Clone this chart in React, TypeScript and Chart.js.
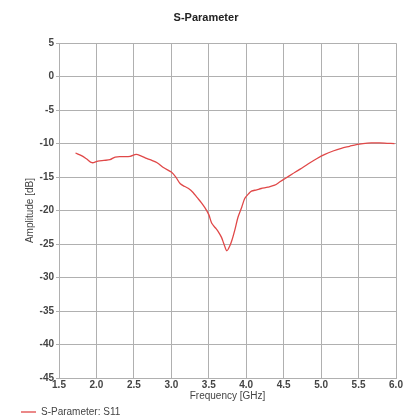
import React, { useEffect, useRef } from "react";
import { Chart, registerables } from "chart.js";

Chart.register(...registerables);

const freqGHz = [1.72, 1.8, 1.87, 1.94, 2.02, 2.1, 2.18, 2.25, 2.35, 2.45, 2.53, 2.6, 2.67, 2.74, 2.81, 2.9, 3.0, 3.06, 3.12, 3.18, 3.23, 3.29, 3.34, 3.4, 3.45, 3.5, 3.54, 3.59, 3.63, 3.67, 3.7, 3.74, 3.78, 3.81, 3.85, 3.89, 3.94, 3.98, 4.03, 4.07, 4.14, 4.2, 4.29, 4.38, 4.45, 4.52, 4.62, 4.72, 4.83, 4.94, 5.05, 5.16, 5.27, 5.38, 5.47, 5.56, 5.67, 5.78, 5.88, 5.98];
const s11dB = [-11.4, -11.8, -12.3, -12.85, -12.6, -12.5, -12.4, -12.0, -11.95, -11.9, -11.6, -11.85, -12.2, -12.5, -12.85, -13.6, -14.25, -15.0, -16.0, -16.4, -16.7, -17.3, -18.0, -18.8, -19.6, -20.6, -21.9, -22.6, -23.2, -24.0, -24.9, -26.0, -25.3, -24.4, -22.8, -21.0, -19.5, -18.2, -17.5, -17.1, -16.9, -16.7, -16.5, -16.2, -15.7, -15.2, -14.5, -13.8, -13.0, -12.25, -11.6, -11.1, -10.7, -10.4, -10.15, -10.0, -9.9, -9.9, -9.95, -10.0];

const chartTitle = "S-Parameter";
const seriesLabel = "S-Parameter: S11";
const xAxisTitle = "Frequency [GHz]";
const yAxisTitle = "Amplitude [dB]";

const FONT = "Liberation Sans, Arial, sans-serif";

export default function App() {
  const ref = useRef<HTMLCanvasElement | null>(null);
  useEffect(() => {
    if (!ref.current) return;
    const chart = new Chart(ref.current, {
      type: "line",
      data: {
        datasets: [
          {
            label: seriesLabel,
            data: freqGHz.map((f, i) => ({ x: f, y: s11dB[i] })),
            borderColor: "#e04848",
            backgroundColor: "#e04848",
            borderWidth: 1.3,
            pointRadius: 0,
            tension: 0.3,
          },
        ],
      },
      options: {
        animation: false,
        responsive: false,
        maintainAspectRatio: false,
        layout: { padding: { left: 16, right: 15, top: 0, bottom: -8 } },
        plugins: {
          title: {
            display: true,
            text: chartTitle,
            color: "#222",
            font: { family: FONT, size: 11, weight: "bold" },
            padding: { top: 11, bottom: 19 },
          },
          legend: {
            display: true,
            position: "bottom",
            align: "start",
            labels: {
              usePointStyle: true,
              pointStyle: "line",
              pointStyleWidth: 15,
              boxWidth: 15,
              color: "#444",
              font: { family: FONT, size: 10 },
              padding: 5,
            },
          },
          tooltip: { enabled: false },
        },
        scales: {
          x: {
            type: "linear",
            min: 1.5,
            max: 6,
            afterFit: (s: any) => { s.height = 24; },
            ticks: {
              stepSize: 0.5,
              color: "#444",
              padding: 0,
              maxRotation: 0,
              font: { family: FONT, size: 10, weight: "bold" },
              callback: (v: any) => Number(v).toFixed(1),
            },
            grid: { color: "#b0b0b0", tickLength: 1 },
            border: { color: "#b0b0b0" },
            title: {
              display: true,
              text: xAxisTitle,
              color: "#444",
              padding: 0,
              font: { family: FONT, size: 10 },
            },
          },
          y: {
            type: "linear",
            min: -45,
            max: 5,
            afterFit: (s: any) => { s.width = 43; },
            ticks: {
              stepSize: 5,
              color: "#444",
              padding: 2,
              font: { family: FONT, size: 10, weight: "bold" },
            },
            grid: { color: "#b0b0b0", tickLength: 3 },
            border: { color: "#b0b0b0" },
            title: {
              display: true,
              text: yAxisTitle,
              color: "#444",
              padding: { top: 8, bottom: 0 },
              font: { family: FONT, size: 10 },
            },
          },
        },
      },
    });
    return () => chart.destroy();
  }, []);
  return (
    <div style={{ position: "fixed", left: 0, top: 0, width: 411, height: 419, background: "#fff" }}>
      <canvas ref={ref} width={411} height={419} style={{ width: 411, height: 419 }} />
    </div>
  );
}
